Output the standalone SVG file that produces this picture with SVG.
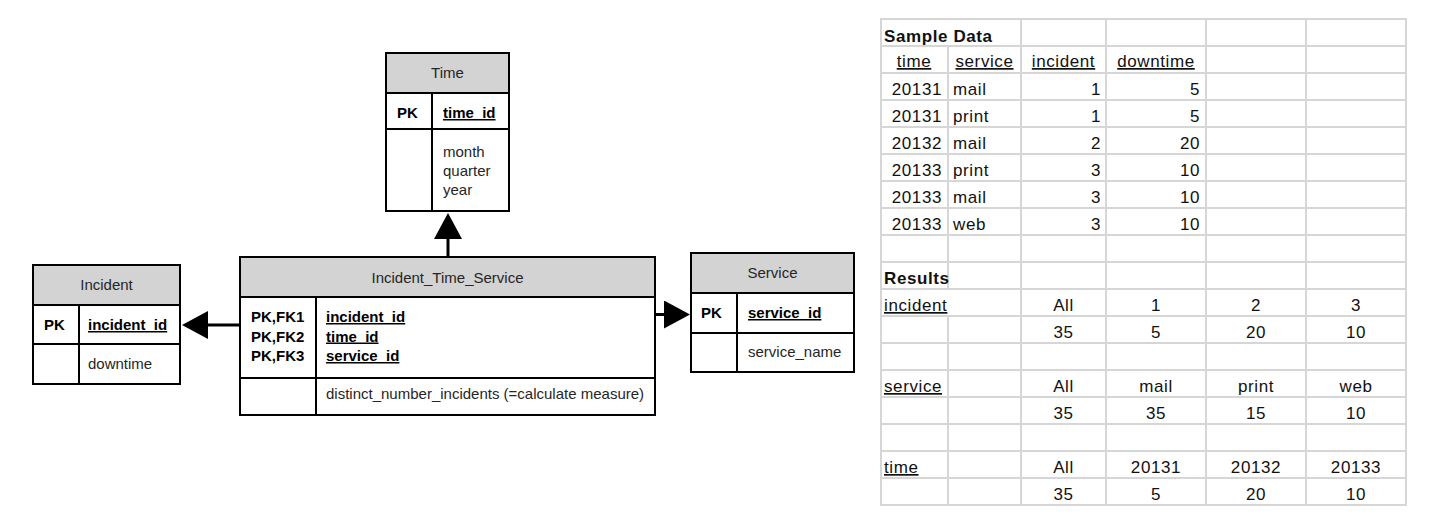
<svg xmlns="http://www.w3.org/2000/svg" width="1445" height="532" viewBox="0 0 1445 532">
<style>
.box{fill:#fff;stroke:#000;stroke-width:2}
.hdr{fill:#d3d3d3;stroke:#000;stroke-width:2}
.ln{stroke:#000;stroke-width:2;fill:none}
.t{font-family:"Liberation Sans",Arial,sans-serif;font-size:15px;fill:#262626}
.b{font-weight:bold;fill:#000}
.u{text-decoration:underline}
.c{text-anchor:middle}
.con{stroke:#000;stroke-width:3;fill:none}
.g{stroke:#d6d6d6;stroke-width:2;fill:none}
.s{font-family:"Liberation Sans",Arial,sans-serif;font-size:17px;fill:#111;letter-spacing:0.6px}
.e{text-anchor:end}
</style>
<defs>
<marker id="arrow" viewBox="0 0 26 28" refX="0" refY="14" markerWidth="26" markerHeight="28" markerUnits="userSpaceOnUse" orient="auto">
<path d="M0,0 L26,14 L0,28 Z" fill="#000"/>
</marker>
</defs>
<rect width="1445" height="532" fill="#fff"/>

<g id="connectors">
<line class="con" x1="240" y1="325" x2="208" y2="325" marker-end="url(#arrow)"/>
<line class="con" x1="448" y1="257" x2="448" y2="239" marker-end="url(#arrow)"/>
<line class="con" x1="655" y1="314.5" x2="664" y2="314.5" marker-end="url(#arrow)"/>
</g>

<g id="time">
<rect class="box" x="386" y="53" width="123" height="158"/>
<rect class="hdr" x="386" y="53" width="123" height="40"/>
<line class="ln" x1="386" y1="129" x2="509" y2="129"/>
<line class="ln" x1="432" y1="93" x2="432" y2="211"/>
<text class="t c" x="447.5" y="78">Time</text>
<text class="t b" x="397" y="118">PK</text>
<text class="t b u" x="443" y="118">time_id</text>
<text class="t" x="443" y="157">month</text>
<text class="t" x="443" y="176">quarter</text>
<text class="t" x="443" y="195">year</text>
</g>

<g id="incident">
<rect class="box" x="33" y="265" width="147" height="119"/>
<rect class="hdr" x="33" y="265" width="147" height="40"/>
<line class="ln" x1="33" y1="344" x2="180" y2="344"/>
<line class="ln" x1="79" y1="305" x2="79" y2="384"/>
<text class="t c" x="106.5" y="290">Incident</text>
<text class="t b" x="44" y="330">PK</text>
<text class="t b u" x="88" y="330">incident_id</text>
<text class="t" x="88" y="369">downtime</text>
</g>

<g id="incident_time_service">
<rect class="box" x="240" y="257" width="415" height="158"/>
<rect class="hdr" x="240" y="257" width="415" height="40"/>
<line class="ln" x1="240" y1="378" x2="655" y2="378"/>
<line class="ln" x1="316" y1="297" x2="316" y2="415"/>
<text class="t c" x="447.5" y="282.5">Incident_Time_Service</text>
<text class="t b" x="251" y="322">PK,FK1</text>
<text class="t b" x="251" y="341.5">PK,FK2</text>
<text class="t b" x="251" y="361">PK,FK3</text>
<text class="t b u" x="326" y="322">incident_id</text>
<text class="t b u" x="326" y="341.5">time_id</text>
<text class="t b u" x="326" y="361">service_id</text>
<text class="t" x="326" y="398.5">distinct_number_incidents (=calculate measure)</text>
</g>

<g id="service">
<rect class="box" x="691" y="253" width="163" height="119"/>
<rect class="hdr" x="691" y="253" width="163" height="40"/>
<line class="ln" x1="691" y1="333" x2="854" y2="333"/>
<line class="ln" x1="737" y1="293" x2="737" y2="372"/>
<text class="t c" x="772.5" y="277.5">Service</text>
<text class="t b" x="701" y="318">PK</text>
<text class="t b u" x="748" y="318">service_id</text>
<text class="t" x="748" y="357">service_name</text>
</g>

<g id="sheet">
<g class="g">
<line x1="880" y1="19" x2="1407" y2="19"/>
<line x1="880" y1="46" x2="1407" y2="46"/>
<line x1="880" y1="73" x2="1407" y2="73"/>
<line x1="880" y1="100" x2="1407" y2="100"/>
<line x1="880" y1="127" x2="1407" y2="127"/>
<line x1="880" y1="154" x2="1407" y2="154"/>
<line x1="880" y1="181" x2="1407" y2="181"/>
<line x1="880" y1="208" x2="1407" y2="208"/>
<line x1="880" y1="235" x2="1407" y2="235"/>
<line x1="880" y1="262" x2="1407" y2="262"/>
<line x1="880" y1="289" x2="1407" y2="289"/>
<line x1="880" y1="316" x2="1407" y2="316"/>
<line x1="880" y1="343" x2="1407" y2="343"/>
<line x1="880" y1="370" x2="1407" y2="370"/>
<line x1="880" y1="397" x2="1407" y2="397"/>
<line x1="880" y1="424" x2="1407" y2="424"/>
<line x1="880" y1="451" x2="1407" y2="451"/>
<line x1="880" y1="478" x2="1407" y2="478"/>
<line x1="880" y1="505" x2="1407" y2="505"/>
<line x1="881" y1="19" x2="881" y2="505"/>
<line x1="948" y1="46" x2="948" y2="289"/>
<line x1="948" y1="316" x2="948" y2="505"/>
<line x1="1021" y1="19" x2="1021" y2="505"/>
<line x1="1106" y1="19" x2="1106" y2="505"/>
<line x1="1206" y1="19" x2="1206" y2="505"/>
<line x1="1306" y1="19" x2="1306" y2="505"/>
<line x1="1406" y1="19" x2="1406" y2="505"/>
</g>
<text class="s b" x="884" y="42">Sample Data</text>
<text class="s u c" x="914" y="67">time</text>
<text class="s u c" x="984.5" y="67">service</text>
<text class="s u c" x="1063.5" y="67">incident</text>
<text class="s u c" x="1156" y="67">downtime</text>

<text class="s e" x="942" y="95">20131</text>
<text class="s" x="953" y="95">mail</text>
<text class="s e" x="1101" y="95">1</text>
<text class="s e" x="1200" y="95">5</text>

<text class="s e" x="942" y="122">20131</text>
<text class="s" x="953" y="122">print</text>
<text class="s e" x="1101" y="122">1</text>
<text class="s e" x="1200" y="122">5</text>

<text class="s e" x="942" y="149">20132</text>
<text class="s" x="953" y="149">mail</text>
<text class="s e" x="1101" y="149">2</text>
<text class="s e" x="1200" y="149">20</text>

<text class="s e" x="942" y="176">20133</text>
<text class="s" x="953" y="176">print</text>
<text class="s e" x="1101" y="176">3</text>
<text class="s e" x="1200" y="176">10</text>

<text class="s e" x="942" y="203">20133</text>
<text class="s" x="953" y="203">mail</text>
<text class="s e" x="1101" y="203">3</text>
<text class="s e" x="1200" y="203">10</text>

<text class="s e" x="942" y="230">20133</text>
<text class="s" x="953" y="230">web</text>
<text class="s e" x="1101" y="230">3</text>
<text class="s e" x="1200" y="230">10</text>

<text class="s b" x="884" y="284">Results</text>

<text class="s u" x="884" y="311">incident</text>
<text class="s c" x="1063.5" y="311">All</text>
<text class="s c" x="1156" y="311">1</text>
<text class="s c" x="1256" y="311">2</text>
<text class="s c" x="1356" y="311">3</text>
<text class="s c" x="1063.5" y="338">35</text>
<text class="s c" x="1156" y="338">5</text>
<text class="s c" x="1256" y="338">20</text>
<text class="s c" x="1356" y="338">10</text>

<text class="s u" x="884" y="392">service</text>
<text class="s c" x="1063.5" y="392">All</text>
<text class="s c" x="1156" y="392">mail</text>
<text class="s c" x="1256" y="392">print</text>
<text class="s c" x="1356" y="392">web</text>
<text class="s c" x="1063.5" y="419">35</text>
<text class="s c" x="1156" y="419">35</text>
<text class="s c" x="1256" y="419">15</text>
<text class="s c" x="1356" y="419">10</text>

<text class="s u" x="884" y="473">time</text>
<text class="s c" x="1063.5" y="473">All</text>
<text class="s c" x="1156" y="473">20131</text>
<text class="s c" x="1256" y="473">20132</text>
<text class="s c" x="1356" y="473">20133</text>
<text class="s c" x="1063.5" y="500">35</text>
<text class="s c" x="1156" y="500">5</text>
<text class="s c" x="1256" y="500">20</text>
<text class="s c" x="1356" y="500">10</text>
</g>
</svg>
